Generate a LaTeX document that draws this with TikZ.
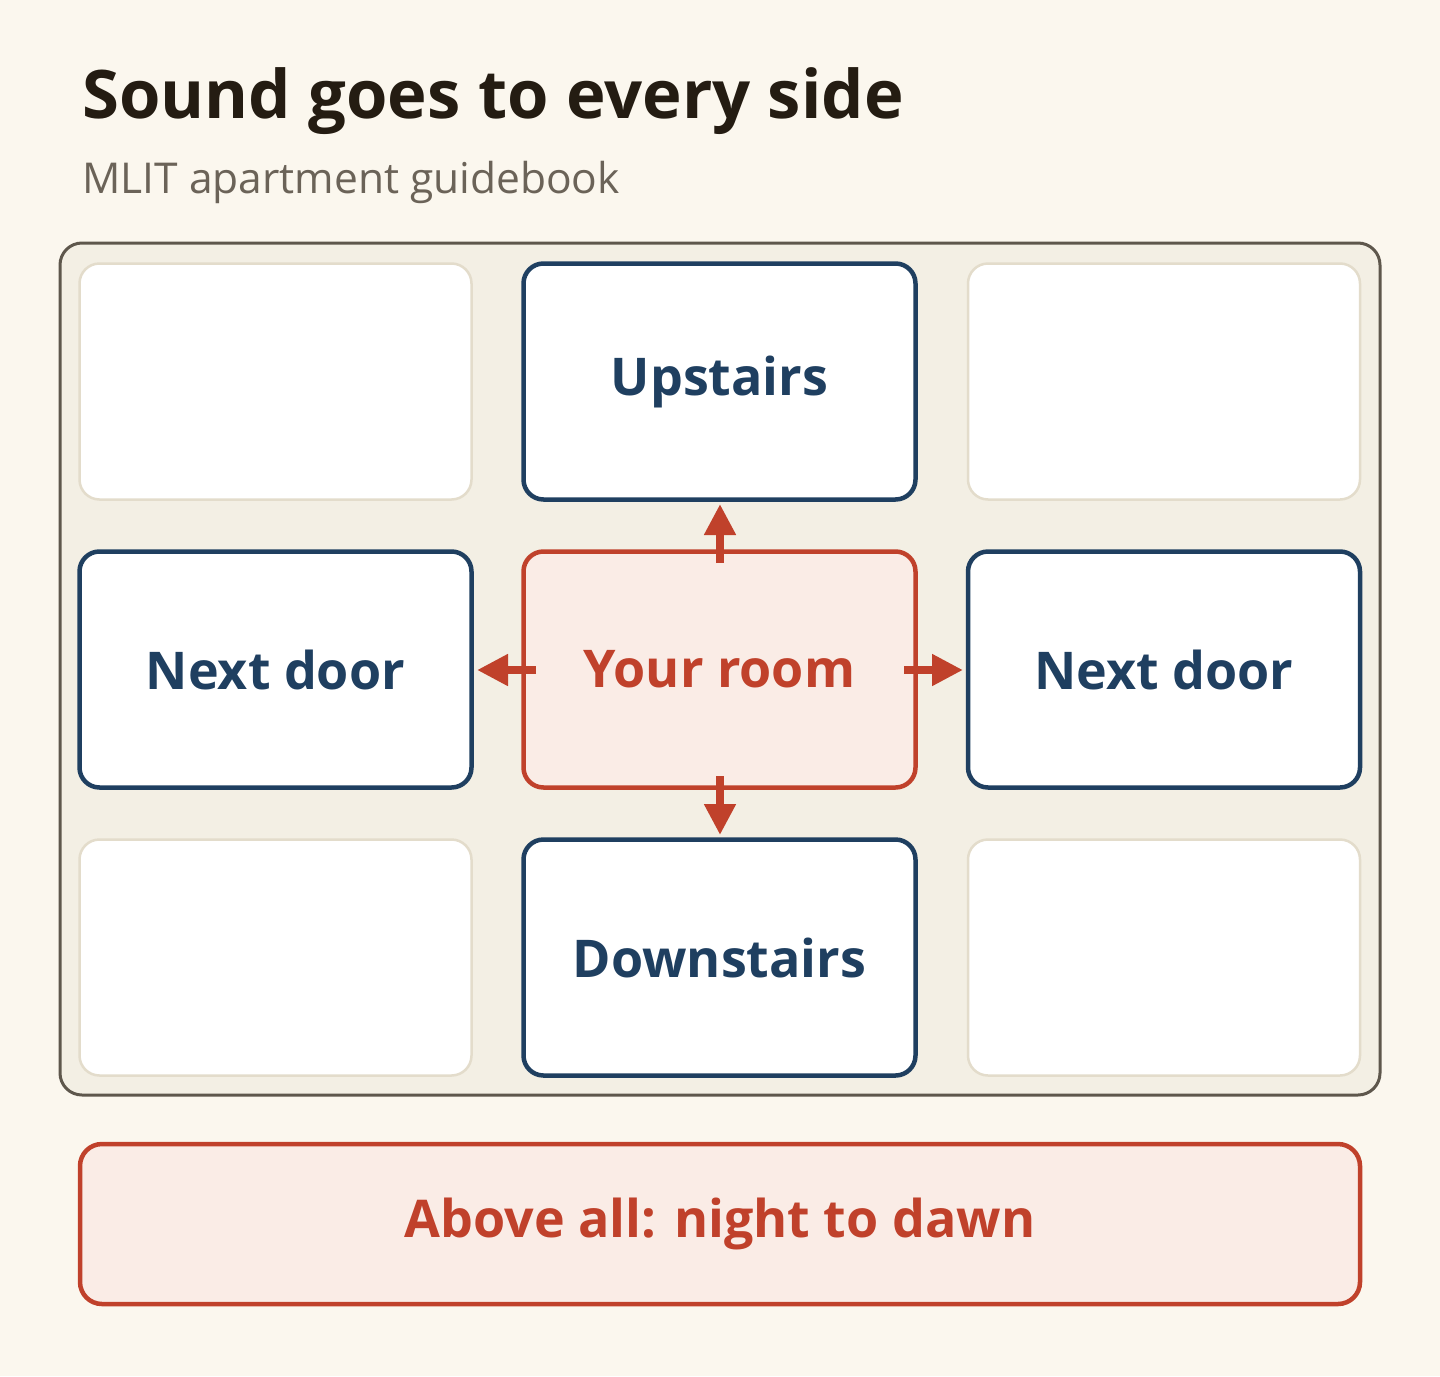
\documentclass[tikz,border=0pt]{standalone}
\usepackage{fontspec}
\setmainfont{Open Sans}
\usetikzlibrary{arrows.meta}
\definecolor{bgc}{HTML}{FBF7EE}
\definecolor{panelc}{HTML}{F3EFE4}
\definecolor{paneld}{HTML}{5E574C}
\definecolor{emptyd}{HTML}{E3DCCB}
\definecolor{bluec}{HTML}{1F3F60}
\definecolor{redc}{HTML}{C0412B}
\definecolor{pinkc}{HTML}{FAECE6}
\definecolor{titlec}{HTML}{241C12}
\definecolor{subc}{HTML}{6B6358}
\tikzset{
  cell/.style={draw, rounded corners=20pt, minimum width=392pt, minimum height=236pt, inner sep=0pt},
  emptycell/.style={cell, fill=white, draw=emptyd, line width=2.5pt},
  nbcell/.style={cell, fill=white, draw=bluec, line width=4.5pt, text=bluec, font=\fontsize{52}{60}\selectfont\bfseries},
  mecell/.style={cell, fill=pinkc, draw=redc, line width=4.5pt, text=redc, font=\fontsize{52}{60}\selectfont\bfseries},
  soundarrow/.style={draw=redc, line width=8pt, -{Triangle[width=30pt,length=31pt]}, shorten >=0pt}
}
\begin{document}
\begin{tikzpicture}[x=1pt,y=-1pt]
\useasboundingbox (0,0) rectangle (1440,1376);
\fill[bgc] (0,0) rectangle (1440,1376);
\node[anchor=base west, inner sep=0pt, text=titlec, font=\fontsize{67}{72}\selectfont\bfseries] (title) at (82,118) {Sound goes to every side};
\node[anchor=base west, inner sep=0pt, text=subc, font=\fontsize{42.5}{48}\selectfont] (sub) at (82,193) {MLIT apartment guidebook};
\draw[paneld, fill=panelc, line width=3pt, rounded corners=22pt] (60,243) rectangle (1380,1095);
\node[emptycell] (tl) at (275.5,381.5) {};
\node[nbcell] (up) at (719.5,381.5) {Upstairs};
\node[emptycell] (tr) at (1164,381.5) {};
\node[nbcell] (left) at (275.5,669.5) {Next door};
\node[mecell] (me) at (719.5,669.5) {Your room};
\node[nbcell] (right) at (1164,669.5) {Next door};
\node[emptycell] (bl) at (275.5,957.5) {};
\node[nbcell] (down) at (719.5,957.5) {Downstairs};
\node[emptycell] (br) at (1164,957.5) {};
\coordinate (upS) at (720,563);
\coordinate (upE) at (720,504);
\coordinate (dnS) at (720,776);
\coordinate (dnE) at (720,835);
\coordinate (lfS) at (536,670);
\coordinate (lfE) at (477,670);
\coordinate (rtS) at (904,670);
\coordinate (rtE) at (963,670);
\draw[soundarrow] (upS) -- (upE);
\draw[soundarrow] (dnS) -- (dnE);
\draw[soundarrow] (lfS) -- (lfE);
\draw[soundarrow] (rtS) -- (rtE);
\node[draw=redc, fill=pinkc, line width=4.5pt, rounded corners=22pt, minimum width=1280pt, minimum height=160pt, inner sep=0pt, text=redc, font=\fontsize{52}{60}\selectfont\bfseries] (note) at (720,1224) {Above all: night to dawn};
\end{tikzpicture}
\end{document}
